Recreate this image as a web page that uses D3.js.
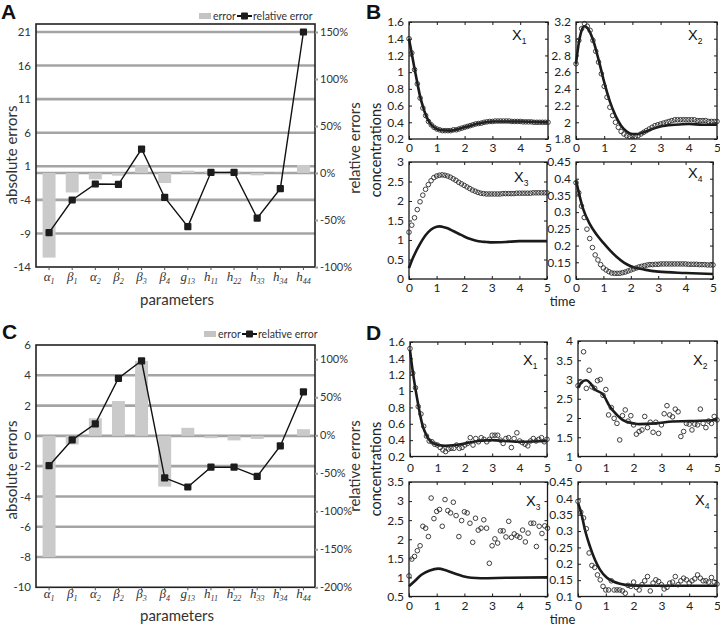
<!DOCTYPE html>
<html>
<head>
<meta charset="utf-8">
<script src="https://cdn.jsdelivr.net/npm/d3@7"></script>
<style>
  body { margin: 0; background: #fff; }
  svg { display: block; font-family: Lato, "Open Sans", sans-serif; }
</style>
</head>
<body>
<svg id="fig" width="720" height="627"></svg>
<script>
// ---------- panels A / C : parameter errors ----------
const paramBase = ["α", "β", "α", "β", "β", "β", "g", "h", "h", "h", "h", "h"];
const paramSub  = ["1", "1", "2", "2", "3", "4", "13", "11", "22", "33", "34", "44"];

const absErrA = [-12.6, -2.9, -0.95, -0.4, 1.15, -1.5, 0.35, 0.25, 0.25, -0.35, 0.05, 1.2];
const relErrA = [-63.5, -28.7, -11.7, -12, 25.5, -26, -57, 0.7, 0.7, -48, -16.7, 150];
const leftTicksA  = [-14, -9, -4, 1, 6, 11, 16, 21];
const rightTicksA = [-100, -50, 0, 50, 100, 150];
const gridA = [-9, -4, 0, 1, 6, 11, 16, 21];

const absErrC = [-8.0, -0.57, 1.16, 2.3, 4.95, -3.35, 0.53, -0.15, -0.3, -0.2, 0.0, 0.44];
const relErrC = [-40, -6, 15, 75, 98, -56, -68, -42, -42, -54, -14, 57];
const leftTicksC  = [-10, -8, -6, -4, -2, 0, 2, 4, 6];
const rightTicksC = [-200, -150, -100, -50, 0, 50, 100];
const gridC = [-8, -6, -4, -2, 0, 2, 4];

// ---------- panels B / D : time courses ----------
const tGrid = [0,0.1,0.2,0.3,0.4,0.5,0.6,0.7,0.8,0.9,1,1.1,1.2,1.3,1.4,1.5,1.6,1.7,1.8,1.9,
  2,2.1,2.2,2.3,2.4,2.5,2.6,2.7,2.8,2.9,3,3.1,3.2,3.3,3.4,3.5,3.6,3.7,3.8,3.9,
  4,4.1,4.2,4.3,4.4,4.5,4.6,4.7,4.8,4.9,5];
const timeTicks = [0, 1, 2, 3, 4, 5];

// B
const bX1Dots = [1.40,1.23,1.03,0.86,0.69,0.57,0.48,0.41,0.37,0.34,
  0.32,0.31,0.30,0.30,0.30,0.30,0.31,0.31,0.32,0.33,
  0.34,0.35,0.36,0.37,0.38,0.385,0.39,0.40,0.405,0.41,
  0.41,0.415,0.415,0.415,0.415,0.415,0.415,0.41,0.41,0.41,
  0.41,0.405,0.405,0.405,0.405,0.40,0.40,0.40,0.40,0.40,0.40];
const bX1LineT = [0,0.1,0.2,0.3,0.4,0.5,0.6,0.7,0.8,1.0,1.2,1.5,2.0,2.5,3.0,3.5,4.0,4.5,5.0];
const bX1LineV = [1.40,1.22,1.04,0.87,0.71,0.59,0.49,0.42,0.37,0.32,0.305,0.30,0.34,0.385,0.41,0.41,0.41,0.405,0.40];

const bX2Dots = [2.70,2.98,3.12,3.18,3.15,3.10,2.98,2.85,2.72,2.58,
  2.43,2.30,2.18,2.08,2.00,1.94,1.89,1.86,1.84,1.83,
  1.83,1.83,1.84,1.86,1.88,1.90,1.92,1.94,1.96,1.97,
  1.98,1.99,2.00,2.01,2.02,2.03,2.03,2.03,2.03,2.03,
  2.03,2.03,2.03,2.02,2.02,2.02,2.02,2.01,2.01,2.01,2.01];
const bX2LineT = [0,0.1,0.2,0.3,0.4,0.6,0.8,1.0,1.2,1.4,1.6,1.8,2.0,2.2,2.4,2.7,3.0,3.5,4.0,4.5,5.0];
const bX2LineV = [2.70,2.95,3.10,3.15,3.13,2.99,2.75,2.48,2.25,2.08,1.96,1.89,1.86,1.86,1.88,1.92,1.95,1.97,1.98,1.97,1.97];

const bX3Dots = [1.20,1.38,1.57,1.78,1.98,2.15,2.30,2.42,2.52,2.60,
  2.64,2.66,2.67,2.66,2.64,2.61,2.57,2.53,2.48,2.44,
  2.40,2.36,2.32,2.28,2.25,2.22,2.20,2.19,2.18,2.18,
  2.18,2.18,2.18,2.18,2.19,2.19,2.19,2.19,2.19,2.20,
  2.20,2.20,2.20,2.20,2.20,2.21,2.21,2.21,2.21,2.21,2.21];
const bX3LineT = [0,0.1,0.2,0.4,0.6,0.8,1.0,1.1,1.2,1.4,1.6,1.8,2.0,2.2,2.4,2.6,2.8,3.0,3.5,4.0,4.5,5.0];
const bX3LineV = [0.28,0.47,0.63,0.90,1.12,1.27,1.34,1.35,1.34,1.30,1.23,1.16,1.09,1.03,0.99,0.96,0.95,0.94,0.95,0.97,0.97,0.97];

const bX4Dots = [0.388,0.358,0.318,0.284,0.249,0.221,0.194,0.172,0.157,0.143,
  0.133,0.127,0.122,0.118,0.117,0.117,0.117,0.119,0.121,0.124,
  0.127,0.130,0.133,0.136,0.138,0.140,0.142,0.143,0.143,0.144,
  0.144,0.145,0.145,0.145,0.145,0.145,0.145,0.145,0.145,0.145,
  0.145,0.144,0.144,0.144,0.144,0.143,0.143,0.143,0.142,0.142,0.142];
const bX4LineT = [0,0.25,0.5,0.75,1.0,1.25,1.5,1.75,2.0,2.5,3.0,4.0,5.0];
const bX4LineV = [0.395,0.312,0.265,0.233,0.208,0.185,0.165,0.149,0.138,0.128,0.122,0.118,0.115];

// D
const dX1Dots = [1.52,1.22,1.04,0.81,0.72,0.57,0.45,0.39,0.38,0.35,
  0.34,0.31,0.28,0.26,0.29,0.30,0.30,0.34,0.30,0.31,
  0.34,0.36,0.43,0.34,0.42,0.38,0.43,0.41,0.38,0.41,
  0.46,0.46,0.46,0.40,0.36,0.42,0.43,0.31,0.42,0.49,
  0.39,0.37,0.35,0.33,0.39,0.42,0.39,0.41,0.43,0.38,0.41];
const dX1LineT = [0,0.1,0.28,0.45,0.63,0.81,1.05,1.29,1.65,2.0,2.5,3.0,3.45,4.05,5.0];
const dX1LineV = [1.50,1.24,0.87,0.59,0.44,0.37,0.34,0.33,0.34,0.36,0.39,0.40,0.39,0.38,0.39];

const dX2Dots = [2.84,2.94,3.72,2.77,3.24,2.81,2.77,2.97,3.00,2.59,
  2.74,2.08,2.27,1.99,1.86,1.43,2.06,2.21,1.92,2.06,
  1.82,1.58,1.65,1.69,2.04,1.75,1.89,1.63,1.89,1.60,
  1.82,2.11,2.32,2.08,2.03,2.23,2.16,1.52,1.65,1.86,
  1.84,1.69,1.84,1.82,2.23,1.86,1.75,1.92,1.86,2.04,1.95];
const dX2LineT = [0,0.15,0.3,0.45,0.6,0.9,1.15,1.4,1.6,2.0,2.2,2.8,3.4,4.0,5.0];
const dX2LineV = [2.78,2.94,2.98,2.90,2.75,2.61,2.29,2.08,1.95,1.86,1.84,1.86,1.91,1.92,1.95];

const dX3Dots = [1.04,1.48,1.55,1.70,1.83,2.34,2.29,2.07,3.08,2.54,
  2.73,2.78,2.34,3.04,2.75,2.69,2.97,2.62,2.07,2.49,
  2.72,2.69,2.42,1.92,2.55,2.24,2.29,2.51,2.29,1.37,
  1.83,2.01,1.90,2.22,2.22,2.06,2.47,2.05,2.14,2.09,
  2.05,2.24,1.93,2.16,2.42,2.42,1.81,2.34,2.15,2.35,2.29];
const dX3LineT = [0,0.2,0.45,0.75,1.05,1.35,1.65,1.95,2.25,2.6,3.5,5.0];
const dX3LineV = [0.77,0.90,1.07,1.18,1.23,1.18,1.10,1.03,0.99,0.98,0.99,1.00];

const dX4Dots = [0.391,0.358,0.340,0.307,0.233,0.195,0.189,0.166,0.151,0.131,
  0.120,0.120,0.148,0.120,0.120,0.120,0.117,0.110,0.134,0.131,
  0.144,0.128,0.120,0.136,0.148,0.161,0.117,0.141,0.151,0.146,
  0.136,0.123,0.128,0.141,0.144,0.161,0.136,0.148,0.156,0.151,
  0.141,0.148,0.154,0.166,0.156,0.148,0.148,0.144,0.158,0.144,0.138];
const dX4LineT = [0,0.13,0.25,0.43,0.61,0.79,1.03,1.27,1.51,1.87,2.46,3.42,5.0];
const dX4LineV = [0.386,0.350,0.304,0.253,0.212,0.182,0.158,0.146,0.139,0.134,0.133,0.133,0.133];

const yTicksConc1 = [0.2,0.4,0.6,0.8,1,1.2,1.4,1.6];
const yTicksBX2 = [1.8,2,2.2,2.4,2.6,2.8,3,3.2];
const yLabelsBX2 = ["1.8","2","2.2","2.4","2.6","2. 8","3","3.2"];
const yTicksBX3 = [0,0.5,1,1.5,2,2.5,3];
const yTicksX4 = [0.1,0.15,0.2,0.25,0.3,0.35,0.4,0.45];
const yLabelsBX4 = ["0","0.15","0.2","0.25","0.3","0.35","0.4","0.45"];
const yTicksDX2 = [1,1.5,2,2.5,3,3.5,4];
const yTicksDX3 = [0.5,1,1.5,2,2.5,3,3.5];

const svg = d3.select("#fig");
const fmt = d => String(d);

// ---------- error panel ----------
function errorPanel(o) {
  const g = svg.append("g");
  const yL = d3.scaleLinear().domain(o.leftDomain).range([o.bottom, o.top]);
  const yR = d3.scaleLinear().domain(o.rightDomain).range([o.bottom, o.top]);
  const x = d3.scaleBand().domain(d3.range(paramBase.length))
    .range([o.left + 1.5, o.right]).paddingInner(0.44).paddingOuter(0.22);
  const cx = i => x(i) + x.bandwidth() / 2;

  g.selectAll(".grid").data(o.grid).join("line").attr("class", "grid")
    .attr("x1", o.left).attr("x2", o.right)
    .attr("y1", d => yL(d)).attr("y2", d => yL(d))
    .attr("stroke", "#a4a4a4").attr("stroke-width", 2.6);

  g.selectAll(".bar").data(o.abs).join("rect").attr("class", "bar")
    .attr("x", (d, i) => x(i)).attr("width", x.bandwidth())
    .attr("y", d => yL(Math.max(0, d)))
    .attr("height", d => Math.abs(yL(d) - yL(0)))
    .attr("fill", "#cacaca");

  g.append("rect")
    .attr("x", o.left).attr("y", o.top)
    .attr("width", o.right - o.left).attr("height", o.bottom - o.top)
    .attr("fill", "none").attr("stroke", "#222").attr("stroke-width", 1.6);

  const la = g.append("g").attr("transform", `translate(${o.left},0)`)
    .call(d3.axisLeft(yL).tickValues(o.leftTicks).tickFormat(fmt).tickSize(0).tickPadding(5));
  la.select(".domain").remove();
  la.selectAll("text").attr("font-size", 11.5).attr("fill", "#333").attr("font-family", "Lato, sans-serif");

  const ra = g.append("g").attr("transform", `translate(${o.right},0)`)
    .call(d3.axisRight(yR).tickValues(o.rightTicks).tickFormat(d => d + "%").tickSize(3).tickPadding(2));
  ra.select(".domain").remove();
  ra.selectAll("line").attr("stroke", "#999").attr("stroke-width", 2);
  ra.selectAll("text").attr("font-size", 11).attr("fill", "#333").attr("font-family", "Lato, sans-serif");

  const ba = g.append("g").attr("transform", `translate(0,${o.bottom})`)
    .call(d3.axisBottom(x).tickSize(3).tickFormat(""));
  ba.select(".domain").remove();
  ba.selectAll("line").attr("stroke", "#555");

  const pl = g.selectAll(".plab").data(paramBase).join("text").attr("class", "plab")
    .attr("x", (d, i) => cx(i)).attr("y", o.paramY)
    .attr("text-anchor", "middle")
    .attr("font-family", "'Liberation Serif', 'DejaVu Serif', serif")
    .attr("font-style", "italic").attr("font-size", 13).attr("fill", "#333");
  pl.append("tspan").text(d => d);
  pl.append("tspan").attr("font-size", 8).attr("dy", 3).text((d, i) => paramSub[i]);

  g.append("path").datum(o.rel)
    .attr("fill", "none").attr("stroke", "#111").attr("stroke-width", 1.4)
    .attr("d", d3.line().x((d, i) => cx(i)).y(d => yR(d)));
  g.selectAll(".mk").data(o.rel).join("rect").attr("class", "mk")
    .attr("x", (d, i) => cx(i) - 3.6).attr("y", d => yR(d) - 3.6)
    .attr("width", 7.2).attr("height", 7.2).attr("rx", 1)
    .attr("fill", "#1c1c1c");

  // legend
  const lg = g.append("g").attr("transform", `translate(${o.legendX},${o.legendY})`);
  lg.append("rect").attr("x", 0).attr("y", -3).attr("width", 12).attr("height", 6).attr("fill", "#c4c4c4");
  lg.append("text").attr("x", 14).attr("y", 4).attr("font-size", 10.5).attr("fill", "#333").text("error");
  lg.append("line").attr("x1", 38).attr("x2", 53).attr("stroke", "#111").attr("stroke-width", 2);
  lg.append("rect").attr("x", 42).attr("y", -3.5).attr("width", 7).attr("height", 7).attr("rx", 1).attr("fill", "#1c1c1c");
  lg.append("text").attr("x", 54).attr("y", 4).attr("font-size", 10.5).attr("fill", "#333").text("relative error");

  g.append("text").attr("transform", `translate(17,${o.absMid}) rotate(-90)`)
    .attr("text-anchor", "middle").attr("font-size", 15).attr("fill", "#333").text("absolute errors");
  g.append("text").attr("transform", `translate(360,${o.relMid}) rotate(-90)`)
    .attr("text-anchor", "middle").attr("font-size", 15).attr("fill", "#333").text("relative errors");
  g.append("text").attr("x", 177).attr("y", o.titleY)
    .attr("text-anchor", "middle").attr("font-size", 15).attr("fill", "#333").text("parameters");
}

errorPanel({
  left: 36, right: 315, top: 24, bottom: 267,
  leftDomain: [-14, 22.19], rightDomain: [-100, 158.5],
  leftTicks: leftTicksA, rightTicks: rightTicksA, grid: gridA,
  abs: absErrA, rel: relErrA,
  legendX: 199, legendY: 16, paramY: 281, titleY: 305, absMid: 155, relMid: 148
});
errorPanel({
  left: 36, right: 315, top: 345, bottom: 587.3,
  leftDomain: [-10, 6], rightDomain: [-200, 118.8],
  leftTicks: leftTicksC, rightTicks: rightTicksC, grid: gridC,
  abs: absErrC, rel: relErrC,
  legendX: 204, legendY: 334, paramY: 598, titleY: 621, absMid: 470, relMid: 466
});

// ---------- time-course subplot ----------
function subplot(o) {
  const g = svg.append("g");
  const x = d3.scaleLinear().domain([0, 5]).range([o.x0, o.x1]);
  const y = d3.scaleLinear().domain([o.yTicks[0], o.yTicks[o.yTicks.length - 1]]).range([o.y1, o.y0]);

  g.append("rect").attr("x", o.x0).attr("y", o.y0)
    .attr("width", o.x1 - o.x0).attr("height", o.y1 - o.y0)
    .attr("fill", "none").attr("stroke", "#1a1a1a").attr("stroke-width", 1.3);

  const styleAxis = a => {
    a.select(".domain").remove();
    a.selectAll("line").attr("stroke", "#1a1a1a");
    a.selectAll("text").attr("font-size", 12).attr("fill", "#222").attr("font-family", "Lato, sans-serif");
  };
  g.append("g").attr("transform", `translate(0,${o.y1})`)
    .call(d3.axisBottom(x).tickValues(timeTicks).tickFormat(fmt).tickSizeInner(-3).tickSizeOuter(0).tickPadding(o.xPad))
    .call(styleAxis);
  g.append("g").attr("transform", `translate(0,${o.y0})`)
    .call(d3.axisTop(x).tickValues(timeTicks).tickFormat("").tickSizeInner(-3).tickSizeOuter(0))
    .call(styleAxis);
  const labels = o.yLabels || o.yTicks.map(fmt);
  g.append("g").attr("transform", `translate(${o.x0},0)`)
    .call(d3.axisLeft(y).tickValues(o.yTicks).tickFormat((d, i) => labels[i]).tickSizeInner(-3).tickSizeOuter(0).tickPadding(5))
    .call(styleAxis);
  g.append("g").attr("transform", `translate(${o.x1},0)`)
    .call(d3.axisRight(y).tickValues(o.yTicks).tickFormat("").tickSizeInner(-3).tickSizeOuter(0))
    .call(styleAxis);

  g.append("path")
    .datum(o.lineT.map((t, i) => [t, o.lineV[i]]))
    .attr("fill", "none").attr("stroke", "#1a1a1a").attr("stroke-width", 2.6)
    .attr("d", d3.line().curve(d3.curveMonotoneX).x(d => x(d[0])).y(d => y(d[1])));

  g.selectAll(".dot").data(o.dots).join("circle").attr("class", "dot")
    .attr("cx", (d, i) => x(tGrid[i])).attr("cy", d => y(d)).attr("r", 2.3)
    .attr("fill", "none").attr("stroke", "#2a2a2a").attr("stroke-width", 0.9);

  const lab = g.append("text").attr("x", o.x1 + o.lx).attr("y", o.y0 + o.ly)
    .attr("font-size", 14.5).attr("fill", "#111").attr("font-family", "'Liberation Sans', Arial, sans-serif");
  lab.append("tspan").text("X");
  lab.append("tspan").attr("font-size", 8.5).attr("dy", 4).text(o.sub);
}

const subplots = [
  { x0: 409, x1: 548, y0: 22, y1: 139, yTicks: yTicksConc1, dots: bX1Dots, lineT: bX1LineT, lineV: bX1LineV, sub: "1", lx: -36, ly: 18, xPad: 4 },
  { x0: 576, x1: 717, y0: 22, y1: 139, yTicks: yTicksBX2, yLabels: yLabelsBX2, dots: bX2Dots, lineT: bX2LineT, lineV: bX2LineV, sub: "2", lx: -29, ly: 18, xPad: 4 },
  { x0: 409, x1: 547, y0: 162, y1: 279, yTicks: yTicksBX3, dots: bX3Dots, lineT: bX3LineT, lineV: bX3LineV, sub: "3", lx: -33, ly: 20, xPad: 4 },
  { x0: 576, x1: 713, y0: 162, y1: 279, yTicks: yTicksX4, yLabels: yLabelsBX4, dots: bX4Dots, lineT: bX4LineT, lineV: bX4LineV, sub: "4", lx: -25, ly: 16, xPad: 4 },
  { x0: 410, x1: 547, y0: 342, y1: 456.5, yTicks: yTicksConc1, dots: dX1Dots, lineT: dX1LineT, lineV: dX1LineV, sub: "1", lx: -24, ly: 23, xPad: 7 },
  { x0: 578, x1: 717, y0: 341, y1: 456.5, yTicks: yTicksDX2, dots: dX2Dots, lineT: dX2LineT, lineV: dX2LineV, sub: "2", lx: -24, ly: 24, xPad: 7 },
  { x0: 409, x1: 547.5, y0: 482, y1: 596.5, yTicks: yTicksDX3, dots: dX3Dots, lineT: dX3LineT, lineV: dX3LineV, sub: "3", lx: -21.5, ly: 24, xPad: 5 },
  { x0: 578, x1: 717, y0: 482, y1: 596.5, yTicks: yTicksX4, dots: dX4Dots, lineT: dX4LineT, lineV: dX4LineV, sub: "4", lx: -22, ly: 23, xPad: 5 }
];
subplots.forEach(subplot);

// axis titles for B / D
[[150, 306], [469, 624]].forEach(([cy, ty]) => {
  svg.append("text").attr("transform", `translate(381,${cy}) rotate(-90)`)
    .attr("text-anchor", "middle").attr("font-size", 14.5).attr("fill", "#222").text("concentrations");
  svg.append("text").attr("x", 562.5).attr("y", ty)
    .attr("text-anchor", "middle").attr("font-size", 13).attr("fill", "#222").text("time");
});

// panel letters
[["A", 1, 19], ["B", 366, 19], ["C", 2, 339], ["D", 366, 340]].forEach(([t, px, py]) => {
  svg.append("text").attr("x", px).attr("y", py)
    .attr("font-family", "'Liberation Sans', Arial, sans-serif")
    .attr("font-weight", "bold").attr("font-size", 21).attr("fill", "#111").text(t);
});
</script>
</body>
</html>
